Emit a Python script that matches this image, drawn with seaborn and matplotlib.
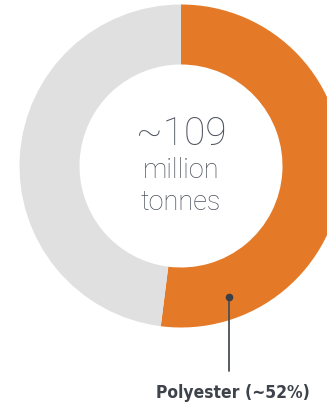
import matplotlib
matplotlib.use("Agg")
import matplotlib.pyplot as plt
import seaborn as sns

labels = ["Polyester", "Other fibres"]
shares = [52, 48]
colors = ["#E47A28", "#E0E0E0"]
total_label = "~109"
unit_lines = ["million", "tonnes"]
callout = "Polyester (~52%)"

sns.set_theme(style="white")
plt.rcParams["font.family"] = ["Roboto", "DejaVu Sans"]

fig = plt.figure(figsize=(3.27, 4.06), dpi=100)
ax = fig.add_axes([0, 0, 1, 1])

cx, cy = 181, 239
ax.pie(
    shares,
    colors=colors,
    startangle=90,
    counterclock=False,
    radius=161.5,
    center=(cx, cy),
    wedgeprops=dict(width=60, linewidth=0),
    frame=True,
)
ax.set_xlim(0, 327)
ax.set_ylim(0, 406)
ax.set_aspect("equal")
ax.axis("off")

text_col = "#4c525c"
ax.text(cx, 272, total_label, ha="center", va="center", fontsize=28,
        fontweight="light", color=text_col)
ax.text(cx, 235, unit_lines[0], ha="center", va="center", fontsize=19.5,
        fontweight="light", color=text_col)
ax.text(cx, 203, unit_lines[1], ha="center", va="center", fontsize=19.5,
        fontweight="light", color=text_col)

# callout
ax.plot([229, 229], [406 - 298, 406 - 372], color="#4a4f58", lw=1.3)
ax.plot(229, 406 - 298, "o", color="#3a3f48", ms=4.5)
ax.text(233, 406 - 393, callout, ha="center", va="center", fontsize=12.5,
        fontweight="bold", fontstretch="condensed", color="#3d424b",
        family=["DejaVu Sans"])

fig.savefig("out.png", dpi=100)
